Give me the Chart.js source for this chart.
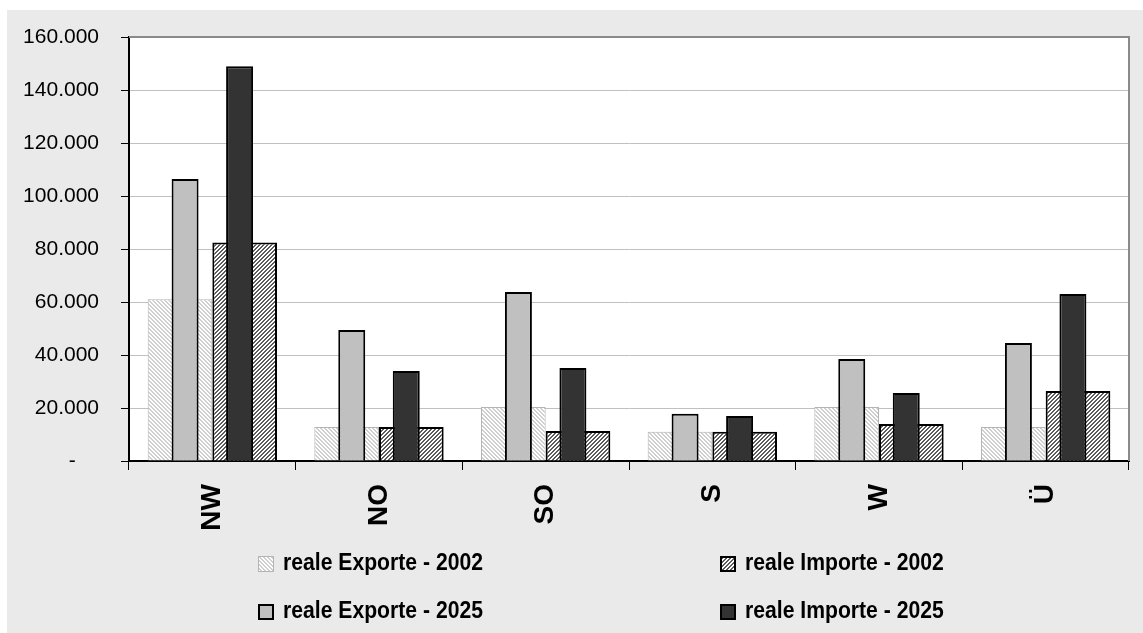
<!DOCTYPE html>
<html>
<head>
<meta charset="utf-8">
<script src="https://cdn.jsdelivr.net/npm/chart.js@4.4.1/dist/chart.umd.min.js"></script>
<style>
    html, body { margin: 0; padding: 0; background: #fff; }
    #wrap { position: relative; width: 1143px; height: 633px; }
    #legend .item { position: absolute; height: 22px; line-height: 22px; font-family: "Liberation Sans", Arial, sans-serif; font-size: 23px; font-weight: bold; color: #000; white-space: nowrap; }
    #legend .box { position: absolute; left: 0; top: 5px; box-sizing: border-box; width: 16px; height: 16px; }
    #legend .txt { position: absolute; left: 25px; top: 0; transform: scaleX(0.92); transform-origin: 0 50%; }
</style>
</head>
<body>
<div id="wrap">
    <canvas id="myChart" width="1143" height="633"></canvas>
    <div id="legend"></div>
</div>
<script>
// dati
const regioni = ['NW', 'NO', 'SO', 'S', 'W', 'Ü'];
const exporte2002 = [61000, 12800, 20400, 11000, 20400, 12800];
const importe2002 = [82500, 12800, 11300, 11000, 14000, 26400];
const exporte2025 = [106400, 49400, 63800, 17800, 38500, 44500];
const importe2025 = [149000, 34000, 35100, 17000, 25700, 63000];
const yMax = 160000;
const yStep = 20000;

// tratteggio diagonale su sfondo bianco
function hatch(color, dir) {
    const c = document.createElement('canvas');
    c.width = 4;
    c.height = 4;
    const ctx = c.getContext('2d');
    ctx.fillStyle = '#fff';
    ctx.fillRect(0, 0, 4, 4);
    ctx.fillStyle = color;
    for (let i = 0; i < 4; i++) {
        const x = dir === '\\' ? i : 3 - i;
        ctx.fillRect(x, i, 1, 1);
        ctx.fillRect((x + 1) % 4, i, 1, 1);
    }
    return c;
}

const tileExp02 = hatch('#cfcfcf', '\\');
const tileImp02 = hatch('#5c5c5c', '/');
const ctxTmp = document.createElement('canvas').getContext('2d');

const sfondo = {
    id: 'sfondo',
    beforeDraw(chart) {
        const { ctx, chartArea: a } = chart;
        ctx.save();
        ctx.fillStyle = '#eaeaea';
        ctx.fillRect(7, 10, chart.width - 7, chart.height - 10);
        ctx.fillStyle = '#fff';
        ctx.fillRect(a.left, a.top, a.right - a.left, a.bottom - a.top);
        ctx.restore();
    },
    afterDraw(chart) {
        const { ctx, chartArea: a } = chart;
        ctx.save();
        ctx.strokeStyle = '#8a8a8a';
        ctx.lineWidth = 2;
        ctx.beginPath();
        ctx.moveTo(a.left, a.top);
        ctx.lineTo(a.right, a.top);
        ctx.lineTo(a.right, a.bottom);
        ctx.stroke();
        ctx.restore();
    }
};

// stessa "stack" = stessa posizione nel gruppo, le barre 2025 stanno davanti
const datasets = [
    {
        label: 'reale Exporte - 2002',
        data: exporte2002,
        stack: 'exp',
        order: 2,
        backgroundColor: ctxTmp.createPattern(tileExp02, 'repeat'),
        borderColor: '#b4b4b4',
        borderWidth: 1,
        barPercentage: 1,
        categoryPercentage: 0.776
    },
    {
        label: 'reale Importe - 2002',
        data: importe2002,
        stack: 'imp',
        order: 2,
        backgroundColor: ctxTmp.createPattern(tileImp02, 'repeat'),
        borderColor: '#000',
        borderWidth: 2,
        barPercentage: 1,
        categoryPercentage: 0.776
    },
    {
        label: 'reale Exporte - 2025',
        data: exporte2025,
        stack: 'exp',
        order: 1,
        backgroundColor: '#c0c0c0',
        borderColor: '#000',
        borderWidth: 2,
        barPercentage: 0.495,
        categoryPercentage: 0.654
    },
    {
        label: 'reale Importe - 2025',
        data: importe2025,
        stack: 'imp',
        order: 1,
        backgroundColor: '#333333',
        borderColor: '#000',
        borderWidth: 2,
        barPercentage: 0.495,
        categoryPercentage: 0.654
    }
];

new Chart(document.getElementById('myChart'), {
    type: 'bar',
    data: { labels: regioni, datasets: datasets },
    options: {
        responsive: false,
        animation: false,
        layout: { padding: { left: 7, top: 37, right: 14, bottom: 0 } },
        plugins: { legend: { display: false }, tooltip: { enabled: false } },
        scales: {
            x: {
                offset: true,
                grid: { drawOnChartArea: false, offset: true, tickLength: 9, tickColor: '#000' },
                border: { color: '#000', width: 2 },
                ticks: {
                    minRotation: 90,
                    maxRotation: 90,
                    padding: 14,
                    color: '#000',
                    font: { family: '"Liberation Sans Narrow", "Liberation Sans", Arial', size: 28, weight: 'bold' }
                },
                afterFit: function (s) { s.height = 172; }
            },
            y: {
                min: 0,
                max: yMax,
                stacked: false,
                ticks: {
                    stepSize: yStep,
                    padding: 22,
                    color: '#000',
                    font: { family: '"Liberation Sans", Arial', size: 21 },
                    callback: function (v) { return v === 0 ? '-\u2007\u2007' : v.toLocaleString('de-DE'); }
                },
                grid: { color: '#c0c0c0', tickColor: '#000', tickLength: 8 },
                border: { color: '#000', width: 2 },
                afterFit: function (s) { s.width = 122; }
            }
        }
    },
    plugins: [sfondo]
});

// legenda in due colonne
const legenda = [
    { ds: 0, left: 258, top: 551, tile: tileExp02, border: '1px solid #b4b4b4' },
    { ds: 1, left: 720, top: 551, tile: tileImp02, border: '2px solid #000' },
    { ds: 2, left: 258, top: 599, color: '#c0c0c0', border: '2px solid #000' },
    { ds: 3, left: 720, top: 599, color: '#333333', border: '2px solid #000' }
];
const legendDiv = document.getElementById('legend');
legenda.forEach(function (l) {
    const item = document.createElement('div');
    item.className = 'item';
    item.style.left = l.left + 'px';
    item.style.top = l.top + 'px';
    const box = document.createElement('span');
    box.className = 'box';
    box.style.border = l.border;
    if (l.tile) {
        box.style.backgroundImage = 'url(' + l.tile.toDataURL() + ')';
    } else {
        box.style.background = l.color;
    }
    const txt = document.createElement('span');
    txt.className = 'txt';
    txt.textContent = datasets[l.ds].label;
    item.appendChild(box);
    item.appendChild(txt);
    legendDiv.appendChild(item);
});
</script>
</body>
</html>
